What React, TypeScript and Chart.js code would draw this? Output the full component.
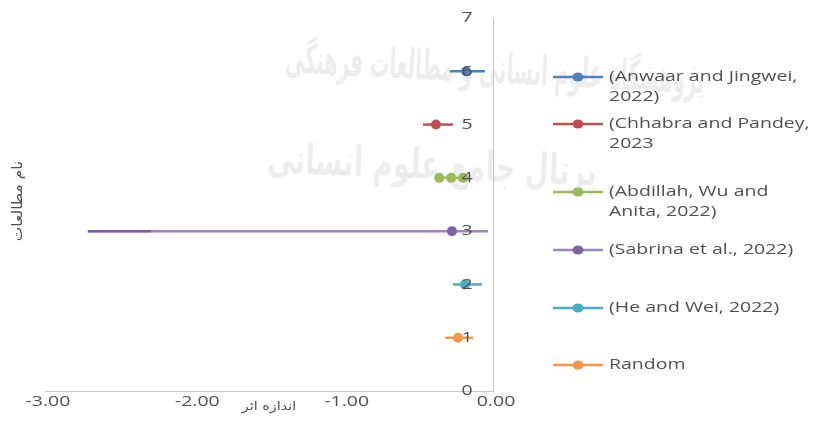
import React, { useEffect, useRef } from "react";
import { Chart, registerables } from "chart.js";

Chart.register(...registerables);

// Studies plotted from top (row 6) to bottom (row 1)
const studyRows = [6, 5, 4, 3, 2, 1];
const legendLines = [
  ["(Anwaar and Jingwei,", "2022)"],
  ["(Chhabra and Pandey,", "2023"],
  ["(Abdillah, Wu and", "Anita, 2022)"],
  ["(Sabrina et al., 2022)"],
  ["(He and Wei, 2022)"],
  ["Random"],
];
const effectSizes = [-0.18, -0.382, -0.28, -0.275, -0.188, -0.234];
const lowerLimits = [-0.288, -0.469, -0.36, -2.713, -0.268, -0.32];
const upperLimits = [-0.054, -0.268, -0.2, -0.033, -0.074, -0.134];
// second bound drawn over the long interval of row 3
const sabrinaInnerBound = -2.29;
const seriesColors = ["#4F81BD", "#C0504D", "#9BBB59", "#9A86BB", "#4BACC6", "#F79646"];
const markerColors = ["#4F81BD", "#C0504D", "#9BBB59", "#8064A2", "#4BACC6", "#F79646"];

const xTicks = [-3, -2, -1, 0];
const yTicks = [0, 1, 2, 3, 4, 5, 6, 7];

const xTitle = "اندازه اثر";
const yTitle = "نام مطالعات";
const watermarkTop = "پژوهشگاه علوم انسانی و مطالعات فرهنگی";
const watermarkBottom = "پرتال جامع علوم انسانی";

const TEXT = "#505050";
const FONT = "15px 'Open Sans', sans-serif";
const SX = 1.3;

function wideText(
  ctx: CanvasRenderingContext2D,
  text: string,
  x: number,
  y: number,
  align: CanvasTextAlign,
  sx = SX
) {
  ctx.save();
  ctx.translate(x, y);
  ctx.scale(sx, 1);
  ctx.textAlign = align;
  ctx.textBaseline = "middle";
  ctx.fillText(text, 0, 0);
  ctx.restore();
}

const decorations = {
  id: "forestDecorations",
  beforeDraw(chart: any) {
    const ctx: CanvasRenderingContext2D = chart.ctx;
    ctx.save();
    ctx.fillStyle = "rgba(0,0,0,0.07)";
    ctx.font = "bold 42px 'DejaVu Sans', sans-serif";
    ctx.direction = "rtl";
    ctx.save();
    ctx.translate(495, 72);
    ctx.rotate(0.05);
    ctx.textAlign = "center";
    ctx.textBaseline = "middle";
    ctx.fillText(watermarkTop, 0, 0, 420);
    ctx.restore();
    ctx.save();
    ctx.translate(432, 168);
    ctx.rotate(0.04);
    ctx.textAlign = "center";
    ctx.textBaseline = "middle";
    ctx.fillText(watermarkBottom, 0, 0, 330);
    ctx.restore();
    ctx.restore();
  },
  afterDraw(chart: any) {
    const ctx: CanvasRenderingContext2D = chart.ctx;
    const xs = chart.scales.x;
    const ys = chart.scales.y;
    ctx.save();
    ctx.fillStyle = TEXT;
    ctx.font = FONT;
    const x0 = xs.getPixelForValue(0);
    yTicks.forEach((v) => {
      wideText(ctx, String(v), x0 - 26, ys.getPixelForValue(v), "center");
    });
    xTicks.forEach((v) => {
      wideText(ctx, v.toFixed(2), xs.getPixelForValue(v) + 3, chart.chartArea.bottom + 11, "center");
    });

    // axis titles
    ctx.font = "12px 'DejaVu Sans', sans-serif";
    ctx.fillStyle = TEXT;
    ctx.save();
    ctx.direction = "rtl";
    wideText(ctx, xTitle, (chart.chartArea.left + chart.chartArea.right) / 2, chart.chartArea.bottom + 16, "center", 1.2);
    ctx.restore();
    ctx.save();
    ctx.font = "14px 'DejaVu Sans', sans-serif";
    ctx.translate(18, 201);
    ctx.rotate(-Math.PI / 2);
    ctx.scale(1.1, 1);
    ctx.direction = "rtl";
    ctx.textAlign = "center";
    ctx.textBaseline = "middle";
    ctx.fillText(yTitle, 0, 0);
    ctx.restore();

    // legend: line with marker, then wrapped label
    const legendY = [77, 124, 192, 250, 308, 365];
    legendLines.forEach((lines, i) => {
      const y = legendY[i];
      ctx.strokeStyle = seriesColors[i];
      ctx.lineWidth = 2.5;
      ctx.beginPath();
      ctx.moveTo(553, y);
      ctx.lineTo(603, y);
      ctx.stroke();
      ctx.fillStyle = markerColors[i];
      ctx.beginPath();
      ctx.ellipse(578, y, 5.5, 4.5, 0, 0, Math.PI * 2);
      ctx.fill();
      ctx.fillStyle = TEXT;
      ctx.font = FONT;
      lines.forEach((t, k) => wideText(ctx, t, 609, y + k * 20, "left"));
    });
    ctx.restore();
  },
};

export default function App() {
  const ref = useRef<HTMLCanvasElement>(null);

  useEffect(() => {
    if (!ref.current) return;
    const datasets: any[] = studyRows.map((row, i) => ({
      label: legendLines[i].join(" "),
      data: [
        { x: lowerLimits[i], y: row },
        { x: effectSizes[i], y: row },
        { x: upperLimits[i], y: row },
      ],
      showLine: true,
      borderColor: seriesColors[i],
      borderWidth: 2.5,
      pointRadius: i === 2 ? 5 : [0, 5, 0],
      pointBackgroundColor: markerColors[i],
      pointBorderWidth: 0,
      pointHoverRadius: 0,
      order: 6 - i,
    }));
    datasets.push({
      label: "overlap",
      data: [
        { x: lowerLimits[3], y: studyRows[3] },
        { x: sabrinaInnerBound, y: studyRows[3] },
      ],
      showLine: true,
      borderColor: "rgba(110,82,150,0.75)",
      borderWidth: 2.5,
      pointRadius: 0,
      order: 0,
    });

    const chart = new Chart(ref.current, {
      type: "scatter",
      data: { datasets },
      options: {
        animation: false,
        responsive: false,
        events: [],
        layout: { padding: { left: 45, right: 322, top: 18, bottom: 30 } },
        plugins: { legend: { display: false }, tooltip: { enabled: false } },
        scales: {
          x: {
            type: "linear",
            min: -3,
            max: 0,
            grid: { display: false, drawTicks: false },
            border: { display: true, color: "#c4c4c4", width: 1 },
            ticks: { display: false, stepSize: 1 },
            afterFit: (s: any) => {
              s.height = 0;
            },
          },
          y: {
            type: "linear",
            min: 0,
            max: 7,
            position: { x: 0 } as any,
            grid: { display: false, drawTicks: false },
            border: { display: true, color: "#c4c4c4", width: 1 },
            ticks: { display: false, stepSize: 1 },
          },
        },
      },
      plugins: [decorations],
    });
    return () => chart.destroy();
  }, []);

  return (
    <div style={{ position: "absolute", left: 0, top: 0, width: 815, height: 421, background: "#fff" }}>
      <canvas ref={ref} width={815} height={421} />
    </div>
  );
}
